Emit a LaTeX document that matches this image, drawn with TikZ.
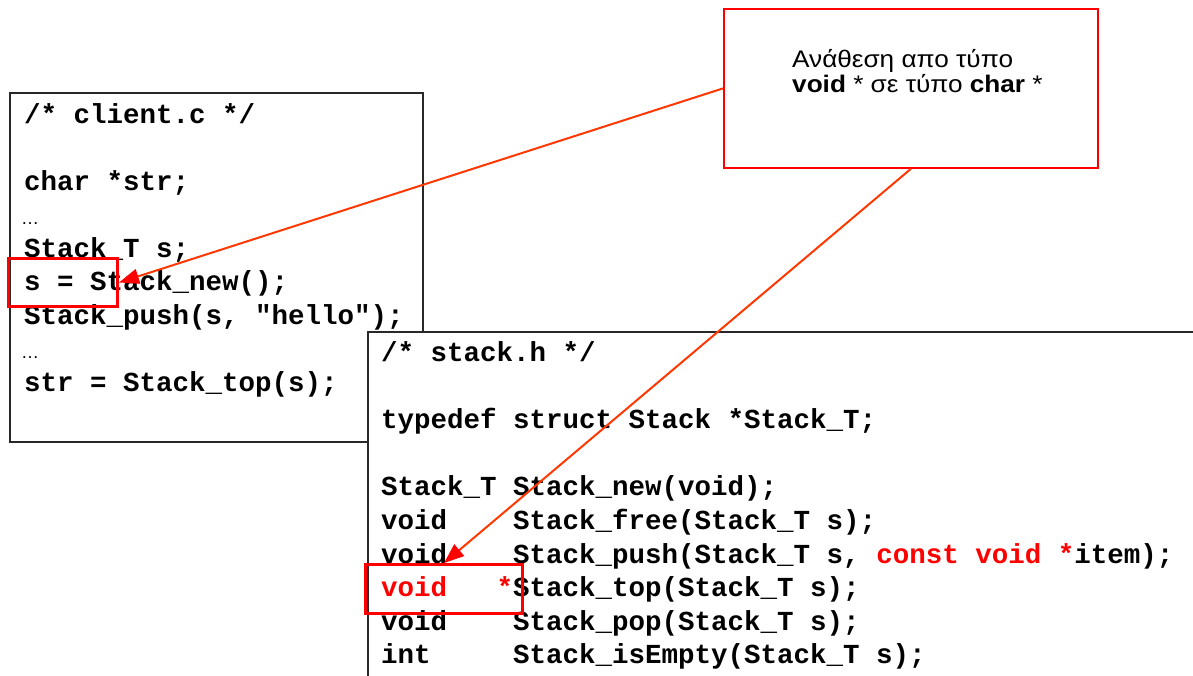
\documentclass[tikz,border=0pt]{standalone}
\usepackage{graphicx}
\usepackage{fontspec}
\setmainfont{Liberation Sans}
\newfontfamily\codefont{Liberation Mono}
\usetikzlibrary{arrows.meta}
\definecolor{hot}{RGB}{255,0,0}
\definecolor{wire}{RGB}{255,55,0}
\definecolor{frame}{RGB}{40,40,40}
\tikzset{
  panel/.style={draw=frame, line width=1.6pt, fill=white, anchor=north west, inner sep=0pt},
  mark box/.style={draw=hot, line width=3pt, anchor=north west, inner sep=0pt},
  notebox/.style={draw=hot, line width=1.8pt, fill=white, anchor=north west, inner sep=0pt},
  codeline/.style={anchor=base west, inner sep=0pt,
    font=\codefont\bfseries\fontsize{27.5}{30}\selectfont},
  elide/.style={anchor=base west, inner sep=0pt, font=\fontsize{18}{20}\selectfont},
  noteline/.style={anchor=base west, inner sep=0pt, font=\fontsize{24}{26}\selectfont},
  pointer/.style={draw=wire, line width=2pt,
    -{Triangle[length=20pt,width=15pt,fill=hot,color=hot]}}
}
\newcommand\wide[1]{\scalebox{1.09}[1]{#1}}
\begin{document}
\begin{tikzpicture}[x=1pt,y=-1pt]
\useasboundingbox (0,0) rectangle (1193,675);
\fill[white] (0,0) rectangle (1193,675);

% client.c listing
\node[panel, minimum width=413pt, minimum height=349pt] (client) at (9,92) {};
\node[codeline] (c1) at (24,123) {/* client.c */};
\node[codeline] (c2) at (24,190) {char *str;};
\node[elide]    (c3) at (21,224) {…};
\node[codeline] (c4) at (24,257) {Stack\_T s;};
\node[codeline] (c5) at (24,290) {s = Stack\_new();};
\node[codeline] (c6) at (24,324) {Stack\_push(s, "hello");};
\node[elide]    (c7) at (21,358) {…};
\node[codeline] (c8) at (24,391) {str = Stack\_top(s);};
\node[mark box, minimum width=109pt, minimum height=48pt] (hlclient) at (7,257) {};

% stack.h listing
\node[panel, minimum width=860pt, minimum height=380pt] (stack) at (367,331) {};
\node[codeline] (s1) at (381,361) {/* stack.h */};
\node[codeline] (s2) at (381,428) {typedef struct Stack *Stack\_T;};
\node[codeline] (s3) at (381,495) {Stack\_T Stack\_new(void);};
\node[codeline] (s4) at (381,529) {void\phantom{xxxx}Stack\_free(Stack\_T s);};
\node[codeline] (s5) at (381,563) {void\phantom{xxxx}Stack\_push(Stack\_T s, \textcolor{hot}{const void *}item);};
\node[codeline] (s6) at (381,596) {\textcolor{hot}{void\phantom{xxx}*}Stack\_top(Stack\_T s);};
\node[codeline] (s7) at (381,630) {void\phantom{xxxx}Stack\_pop(Stack\_T s);};
\node[codeline] (s8) at (381,663) {int\phantom{xxxxx}Stack\_isEmpty(Stack\_T s);};
\node[mark box, minimum width=157pt, minimum height=49pt] (hlstack) at (364,563) {};

% explanatory note
\node[notebox, minimum width=374pt, minimum height=159pt] (note) at (723,8) {};
\node[noteline] (n1) at (792,67) {\wide{Ανάθεση απο τύπο}};
\node[noteline] (n2) at (792,92) {\wide{\textbf{void} * σε τύπο \textbf{char} *}};

% connectors from the note to the marked spots
\draw[pointer] (note.west) -- (hlclient.east);
\draw[pointer] (note.south) -- (hlstack.north);
\end{tikzpicture}
\end{document}
